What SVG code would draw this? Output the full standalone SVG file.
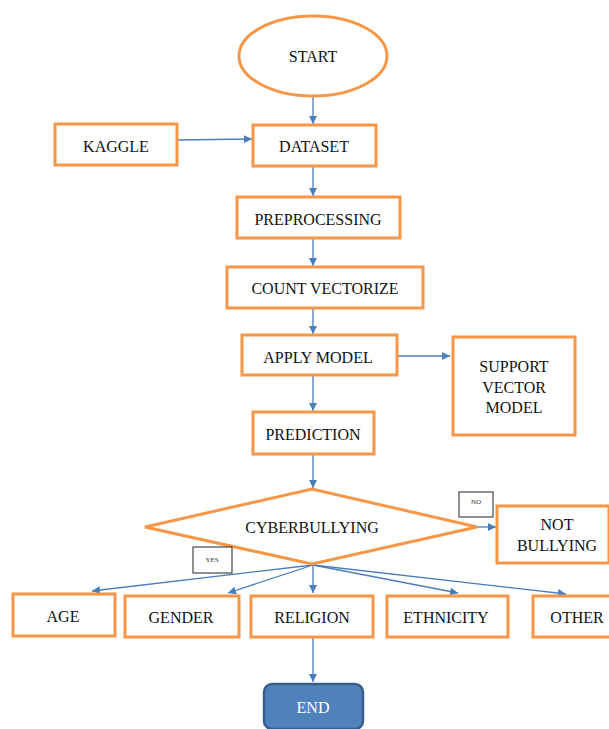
<svg xmlns="http://www.w3.org/2000/svg" width="609" height="729" viewBox="0 0 609 729">
<defs>
<style>
.box{fill:#fff;stroke:#f79646;stroke-width:3}
.t{font-family:"Liberation Serif",serif;font-size:16px;fill:#111;text-anchor:middle}
.s{font-family:"Liberation Serif",serif;font-size:7px;fill:#333;text-anchor:middle}
.lbl{fill:#fff;stroke:#222;stroke-width:1}
.c{stroke:#4a7ebb;stroke-width:1.3;fill:none;marker-end:url(#ah)}
</style>
<marker id="ah" viewBox="0 0 10 10" refX="10" refY="5" markerWidth="8" markerHeight="8" markerUnits="userSpaceOnUse" orient="auto">
<path d="M0,0 L10,5 L0,10 z" fill="#4a7ebb"/>
</marker>
</defs>
<rect width="609" height="729" fill="#fff"/>
<g id="connectors">
<line class="c" x1="313" y1="97" x2="313" y2="124"/>
<line class="c" x1="177" y1="140" x2="252" y2="139"/>
<line class="c" x1="313" y1="166" x2="313" y2="196"/>
<line class="c" x1="313" y1="238" x2="313" y2="266"/>
<line class="c" x1="313" y1="308" x2="313" y2="334"/>
<line class="c" x1="375" y1="356" x2="450" y2="356"/>
<line class="c" x1="313" y1="375" x2="313" y2="411"/>
<line class="c" x1="313" y1="454" x2="313" y2="488"/>
<line class="c" x1="477" y1="527" x2="496" y2="527"/>
<line class="c" x1="313" y1="565" x2="92" y2="591"/>
<line class="c" x1="313" y1="565" x2="228" y2="593"/>
<line class="c" x1="313" y1="565" x2="313" y2="593"/>
<line class="c" x1="313" y1="565" x2="458" y2="593"/>
<line class="c" x1="313" y1="565" x2="566" y2="594"/>
<line class="c" x1="313" y1="637" x2="313" y2="682"/>
</g>
<g id="start"><ellipse class="box" cx="313" cy="56" rx="74" ry="40"/><text class="t" x="313" y="62">START</text></g>
<g id="kaggle"><rect class="box" x="55" y="124" width="122" height="41"/><text class="t" x="116" y="152">KAGGLE</text></g>
<g id="dataset"><rect class="box" x="253" y="125" width="123" height="41"/><text class="t" x="314" y="152">DATASET</text></g>
<g id="preprocessing"><rect class="box" x="237" y="197" width="163" height="41"/><text class="t" x="318" y="225">PREPROCESSING</text></g>
<g id="countvectorize"><rect class="box" x="227" y="267" width="196" height="41"/><text class="t" x="325" y="294">COUNT VECTORIZE</text></g>
<g id="applymodel"><rect class="box" x="242" y="335" width="155" height="40"/><text class="t" x="318" y="363">APPLY MODEL</text></g>
<g id="svm"><rect class="box" x="453" y="337" width="122" height="98"/><text class="t" x="514" y="372">SUPPORT</text><text class="t" x="514" y="393">VECTOR</text><text class="t" x="514" y="413">MODEL</text></g>
<g id="prediction"><rect class="box" x="253" y="412" width="121" height="42"/><text class="t" x="313" y="440">PREDICTION</text></g>
<g id="cyberbullying"><polygon class="box" points="145,527 312,489 477,527 312,564"/><text class="t" x="312" y="533">CYBERBULLYING</text></g>
<g id="nolabel"><rect class="lbl" x="459" y="492" width="34" height="25"/><text class="s" x="476" y="504">NO</text></g>
<g id="yeslabel"><rect class="lbl" x="193" y="547" width="39" height="26"/><text class="s" x="212" y="562">YES</text></g>
<g id="notbullying"><rect class="box" x="497" y="506" width="112" height="57"/><text class="t" x="557" y="530">NOT</text><text class="t" x="557" y="551">BULLYING</text></g>
<g id="age"><rect class="box" x="13" y="594" width="102" height="42"/><text class="t" x="63" y="622">AGE</text></g>
<g id="gender"><rect class="box" x="125" y="596" width="114" height="41"/><text class="t" x="181" y="623">GENDER</text></g>
<g id="religion"><rect class="box" x="251" y="596" width="122" height="41"/><text class="t" x="312" y="623">RELIGION</text></g>
<g id="ethnicity"><rect class="box" x="387" y="596" width="121" height="41"/><text class="t" x="446" y="623">ETHNICITY</text></g>
<g id="other"><rect class="box" x="533" y="596" width="80" height="41"/><text class="t" x="577" y="623">OTHER</text></g>
<g id="end"><rect x="264" y="684" width="99" height="45" rx="8" fill="#4f81bd" stroke="#385d8a" stroke-width="2.5"/><text class="t" x="313" y="713" style="fill:#fff">END</text></g>
</svg>
